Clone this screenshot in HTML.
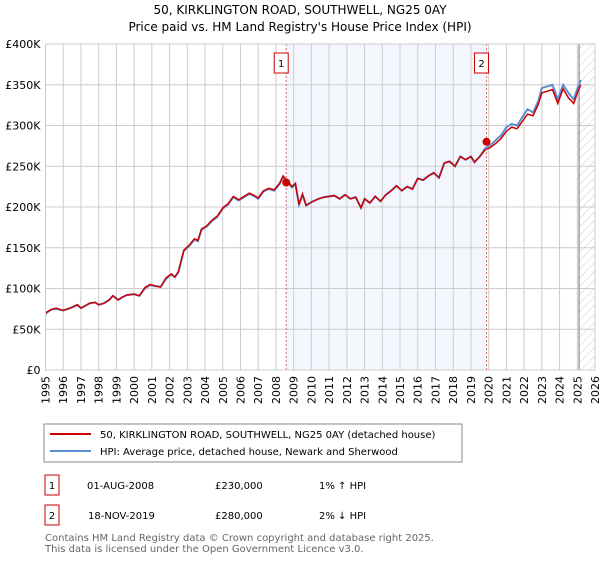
<!DOCTYPE html>
<html><head><meta charset="utf-8"><style>
body{margin:0;background:#fff;font-family:"DejaVu Sans","Liberation Sans",sans-serif;}
svg text{font-family:"DejaVu Sans","Liberation Sans",sans-serif;}
</style></head><body>
<svg id="c" width="600" height="560" xmlns="http://www.w3.org/2000/svg">
<defs><pattern id="hatch" width="6" height="6" patternUnits="userSpaceOnUse" patternTransform="rotate(45)"><line x1="0" y1="0" x2="0" y2="6" stroke="#ccc" stroke-width="1"/></pattern></defs>
<text x="300" y="14" text-anchor="middle" font-size="12">50, KIRKLINGTON ROAD, SOUTHWELL, NG25 0AY</text>
<text x="300" y="31" text-anchor="middle" font-size="12">Price paid vs. HM Land Registry's House Price Index (HPI)</text>
<g id="plot"></g>
<rect x="44" y="424" width="418" height="38" fill="#fff" stroke="#888"/>
<line x1="50" y1="434" x2="91" y2="434" stroke="#cc0000" stroke-width="2"/>
<text x="100" y="438" font-size="10">50, KIRKLINGTON ROAD, SOUTHWELL, NG25 0AY (detached house)</text>
<line x1="50" y1="451" x2="91" y2="451" stroke="#5b8fd4" stroke-width="2"/>
<text x="100" y="455" font-size="10">HPI: Average price, detached house, Newark and Sherwood</text>
<g>
<rect x="45" y="475" width="14" height="20" fill="#fff" stroke="#cc0000"/><text x="52" y="489" text-anchor="middle" font-size="10">1</text>
<text x="87" y="489" font-size="10">01-AUG-2008</text><text x="215" y="489" font-size="10">£230,000</text><text x="319" y="489" font-size="10">1% ↑ HPI</text></g>
<g>
<rect x="45" y="505" width="14" height="20" fill="#fff" stroke="#cc0000"/><text x="52" y="519" text-anchor="middle" font-size="10">2</text>
<text x="88" y="519" font-size="10">18-NOV-2019</text><text x="215" y="519" font-size="10">£280,000</text><text x="319" y="519" font-size="10">2% ↓ HPI</text></g>
<text x="45" y="541" font-size="10" fill="#666">Contains HM Land Registry data © Crown copyright and database right 2025.</text>
<text x="45" y="552" font-size="10" fill="#666">This data is licensed under the Open Government Licence v3.0.</text>
</svg>
<script>
const dates=[1995,1995.3,1995.6,1996,1996.4,1996.8,1997,1997.5,1997.8,1998,1998.3,1998.6,1998.8,1999.1,1999.3,1999.6,2000,2000.3,2000.6,2000.9,2001.2,2001.5,2001.8,2002.1,2002.3,2002.5,2002.8,2003.1,2003.4,2003.6,2003.8,2004.1,2004.4,2004.7,2005,2005.3,2005.6,2005.9,2006.2,2006.5,2006.8,2007,2007.3,2007.6,2007.9,2008.2,2008.4,2008.7,2008.9,2009.1,2009.3,2009.5,2009.7,2010,2010.4,2010.7,2011,2011.3,2011.6,2011.9,2012.2,2012.5,2012.8,2013,2013.3,2013.6,2013.9,2014.2,2014.5,2014.8,2015.1,2015.4,2015.7,2016,2016.3,2016.6,2016.9,2017.2,2017.5,2017.8,2018.1,2018.4,2018.7,2019,2019.2,2019.5,2019.8,2020.1,2020.4,2020.7,2021,2021.3,2021.6,2021.9,2022.2,2022.5,2022.8,2023,2023.3,2023.6,2023.9,2024.2,2024.5,2024.8,2025,2025.2];
const hpi=[69,74,75,73,76,80,76,82,83,80,82,86,91,86,89,92,93,91,100,104,103,102,112,117,114,120,146,152,160,158,172,176,183,188,198,203,212,208,212,216,213,210,219,222,220,228,236,230,224,228,203,215,202,206,210,212,213,214,210,215,210,212,199,210,205,213,207,215,220,226,220,225,222,235,233,238,242,236,254,256,250,262,258,262,255,262,272,276,282,288,298,302,300,310,320,316,330,346,348,350,332,350,340,332,345,356,346];
const price=[70,74,76,73,76,80,76,82,83,80,82,86,91,86,89,92,93,91,101,105,103,102,113,118,114,121,147,153,161,159,173,177,184,189,199,204,213,209,213,217,214,211,220,223,221,229,238,231,225,229,203,216,202,206,210,212,213,214,210,215,210,212,199,210,205,213,207,215,220,226,220,225,222,235,233,238,242,236,254,256,250,262,258,262,255,262,270,273,278,284,293,298,296,305,314,312,326,340,342,344,327,345,334,327,340,350,342];
const yTicks=[0,50,100,150,200,250,300,350,400];
const yTickLabels=["£0","£50K","£100K","£150K","£200K","£250K","£300K","£350K","£400K"];
const sales=[{d:2008.58,v:230,l:"1"},{d:2019.88,v:280,l:"2"}];
const X0=45.5,X1=595,Y0=370,Y1=44;
const xs=d=>X0+(d-1995)/(2026-1995)*(X1-X0);
const ys=v=>Y0-v/400*(Y0-Y1);
const NS="http://www.w3.org/2000/svg";
const g=document.getElementById('plot');
function mk(t,a,p){const e=document.createElementNS(NS,t);for(const k in a)e.setAttribute(k,a[k]);(p||g).appendChild(e);return e;}
let e;
e=mk('rect',{x:xs(sales[0].d),y:Y1,width:xs(sales[1].d)-xs(sales[0].d),height:Y0-Y1,fill:'#eef2fc',opacity:0.7});


e=mk('rect',{x:xs(2025.1),y:Y1,width:X1-xs(2025.1),height:Y0-Y1,fill:'url(#hatch)'});


for(let i=0;i<yTicks.length;i++){
 e=mk('line',{x1:X0,x2:X1,y1:ys(yTicks[i]),y2:ys(yTicks[i]),stroke:'#ccc'});
 
 
 e=mk('text',{x:X0-5,y:ys(yTicks[i])+4,'text-anchor':'end','font-size':11});
 e.textContent=yTickLabels[i];
 
 
}
for(let yr=1995;yr<=2026;yr++){
 e=mk('line',{x1:xs(yr),x2:xs(yr),y1:Y1,y2:Y0,stroke:'#ccc'});
 
 
 e=mk('text',{transform:`translate(${xs(yr)+4},${Y0+6}) rotate(-90)`,'text-anchor':'end','font-size':11});
 e.textContent=yr;
 
 
}
e=mk('line',{x1:xs(2025.1),x2:xs(2025.1),y1:Y1,y2:Y0,stroke:'#888',"stroke-width":1.2});


function pts(arr){return arr.map((v,i)=>xs(dates[i]).toFixed(1)+','+ys(v).toFixed(1)).join(' ');}
e=mk('polyline',{points:pts(hpi),fill:'none',stroke:'#5b8fd4','stroke-width':2});


e=mk('polyline',{points:pts(price),fill:'none',stroke:'#cc0000','stroke-width':1.5});


sales.forEach(s=>{
 e=mk('line',{x1:xs(s.d),x2:xs(s.d),y1:Y1,y2:Y0,stroke:'#e06666','stroke-dasharray':'2,2'});
 
 
 e=mk('circle',{cx:xs(s.d),cy:ys(s.v),r:4,fill:'#cc0000'});
 
 
 e=mk('rect',{x:xs(s.d)-12,y:53,width:14,height:20,fill:'#fff',stroke:'#cc0000'});
 
 
 e=mk('text',{x:xs(s.d)-5,y:67,'text-anchor':'middle','font-size':10});
 e.textContent=s.l;
 
 
});
e=mk('rect',{x:X0,y:Y1,width:X1-X0,height:Y0-Y1,fill:'none',stroke:'#ccc'});


</script>
</body></html>
